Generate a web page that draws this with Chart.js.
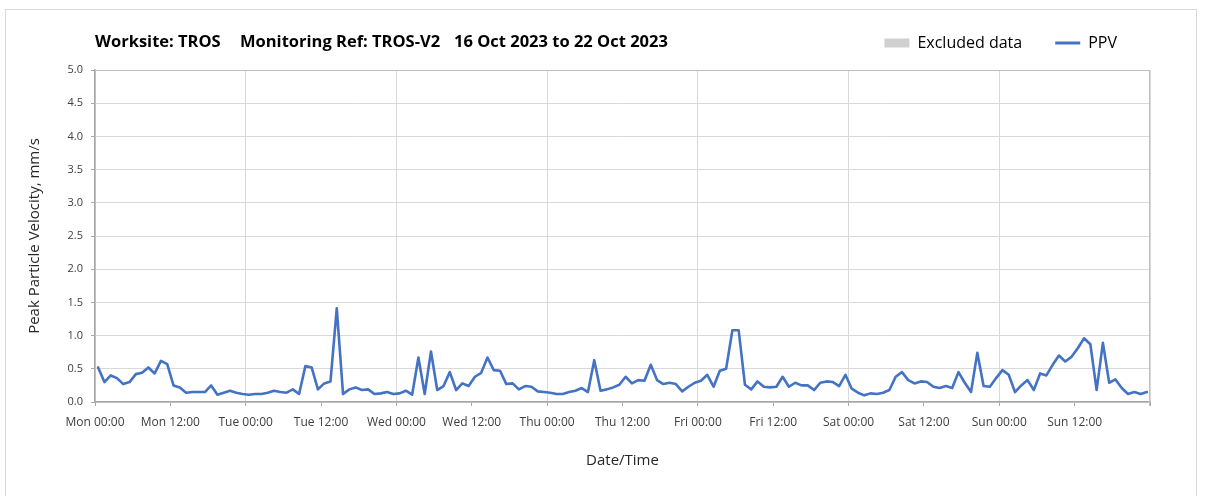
<!DOCTYPE html>
<html>
<head>
<meta charset="utf-8">
<script src="https://cdn.jsdelivr.net/npm/chart.js@4"></script>
<style>
html,body{margin:0;padding:0;background:#fff;}
#wrap{position:relative;width:1208px;height:496px;overflow:hidden;}
#frame{position:absolute;left:5px;top:9px;width:1192px;height:520px;border:1px solid #d9d9d9;box-sizing:border-box;pointer-events:none;}
#c{position:absolute;left:0;top:0;}
</style>
</head>
<body>
<div id="wrap"><div id="frame"></div><canvas id="c" width="1208" height="496"></canvas></div>
<script>
const TITLE_PARTS = ['Worksite: TROS', 'Monitoring Ref: TROS-V2', '16 Oct 2023 to 22 Oct 2023'];
const SERIES_NAME = 'PPV';
const EXCLUDED_NAME = 'Excluded data';
const X_TITLE = 'Date/Time';
const Y_TITLE = 'Peak Particle Velocity, mm/s';
const TICK_LABELS = ['Mon 00:00','Mon 12:00','Tue 00:00','Tue 12:00','Wed 00:00','Wed 12:00',
  'Thu 00:00','Thu 12:00','Fri 00:00','Fri 12:00','Sat 00:00','Sat 12:00','Sun 00:00','Sun 12:00'];
const HOURS_PER_TICK = 12;
const SAMPLE_OFFSET_H = 0.5; // hourly readings, mid-hour
const Y_MAX = 5.0;
const Y_STEP = 0.5;

// Hourly PPV readings (mm/s), Mon 00:00 -> Sun 24:00
const PPV_MON = [0.52,0.30,0.40,0.36,0.27,0.30,0.42,0.44,0.52,0.43,0.62,0.57,
                 0.25,0.22,0.14,0.15,0.15,0.15,0.25,0.11,0.14,0.17,0.14,0.12];
const PPV_TUE = [0.11,0.12,0.12,0.14,0.17,0.15,0.14,0.19,0.12,0.54,0.52,0.19,
                 0.28,0.31,1.41,0.12,0.19,0.22,0.18,0.19,0.12,0.13,0.15,0.12];
const PPV_WED = [0.13,0.17,0.11,0.67,0.12,0.76,0.18,0.24,0.45,0.18,0.28,0.24,
                 0.38,0.44,0.67,0.48,0.47,0.27,0.28,0.19,0.24,0.23,0.16,0.15];
const PPV_THU = [0.14,0.12,0.12,0.15,0.17,0.21,0.15,0.63,0.17,0.19,0.22,0.26,
                 0.38,0.28,0.33,0.32,0.56,0.33,0.27,0.29,0.27,0.16,0.23,0.29];
const PPV_FRI = [0.32,0.41,0.23,0.47,0.50,1.08,1.08,0.26,0.19,0.31,0.23,0.22,
                 0.23,0.38,0.23,0.29,0.25,0.25,0.18,0.29,0.31,0.30,0.24,0.41];
const PPV_SAT = [0.20,0.14,0.10,0.13,0.12,0.14,0.18,0.38,0.45,0.33,0.28,0.31,
                 0.30,0.23,0.21,0.24,0.21,0.45,0.29,0.15,0.74,0.24,0.23,0.36];
const PPV_SUN = [0.48,0.41,0.15,0.25,0.33,0.18,0.43,0.40,0.56,0.70,0.61,0.68,
                 0.81,0.96,0.87,0.18,0.89,0.29,0.34,0.21,0.12,0.15,0.12,0.15];
const PPV = [].concat(PPV_MON, PPV_TUE, PPV_WED, PPV_THU, PPV_FRI, PPV_SAT, PPV_SUN);

const FONT = "'Open Sans', 'Noto Sans', sans-serif";
const LINE_COLOR = '#4472C4';
const EXCL_COLOR = '#d0d0d0';
const GRID_COLOR = '#d9d9d9';
const AXIS_COLOR = '#a6a6a6';
const TEXT_COLOR = '#262626';
const TICK_COLOR = '#404040';
const LEGEND_FONT_SIZE = 16;
const LEGEND_PAD = 33;
const HEADER_Y = 43;

const points = PPV.map((v, i) => ({x: i + SAMPLE_OFFSET_H, y: v}));
const X_MAX = TICK_LABELS.length * HOURS_PER_TICK;

const titlePlugin = {
  id: 'rowTitle',
  afterLayout(chart) {
    // put legend on the same row as the title
    const lg = chart.legend;
    const center = lg.top + LEGEND_PAD + LEGEND_FONT_SIZE / 2;
    const shift = center - HEADER_Y;
    lg.top -= shift;
    lg.bottom -= shift;
  },
  afterDraw(chart) {
    const ctx = chart.ctx;
    ctx.save();
    ctx.font = "bold 16.5px " + FONT;
    ctx.fillStyle = '#000';
    ctx.textBaseline = 'middle';
    const xs = [95, 240, 454];
    TITLE_PARTS.forEach((t, i) => ctx.fillText(t, xs[i], 42));
    // plot frame (top/right)
    const a = chart.chartArea;
    ctx.strokeStyle = '#bfbfbf';
    ctx.lineWidth = 1;
    ctx.beginPath();
    ctx.moveTo(a.left, a.top + 0.5);
    ctx.lineTo(a.right - 0.5, a.top + 0.5);
    ctx.lineTo(a.right - 0.5, a.bottom + 4);
    ctx.stroke();
    ctx.restore();
  }
};

new Chart(document.getElementById('c'), {
  type: 'line',
  data: {
    datasets: [
      { label: EXCLUDED_NAME, data: [], backgroundColor: EXCL_COLOR, borderColor: EXCL_COLOR,
        legendStyle: 'rect', legendWidth: 0 },
      { label: SERIES_NAME, data: points, borderColor: LINE_COLOR, backgroundColor: LINE_COLOR,
        borderWidth: 2.6, pointRadius: 0, tension: 0, borderJoinStyle: 'round', borderCapStyle: 'round',
        legendStyle: 'line', legendWidth: 3 }
    ]
  },
  options: {
    responsive: false,
    animation: false,
    parsing: false,
    layout: { padding: { left: 10, right: 58, top: 11, bottom: 0 } },
    plugins: {
      tooltip: { enabled: false },
      title: { display: false },
      legend: {
        position: 'top',
        align: 'end',
        labels: {
          usePointStyle: true,
          pointStyleWidth: 25,
          boxWidth: 25,
          boxHeight: 9,
          padding: LEGEND_PAD,
          color: TEXT_COLOR,
          font: { family: FONT, size: LEGEND_FONT_SIZE },
          generateLabels: (chart) => chart.data.datasets.map((ds, i) => ({
            text: ds.label,
            fillStyle: ds.backgroundColor,
            strokeStyle: ds.borderColor,
            lineWidth: ds.legendWidth,
            pointStyle: ds.legendStyle,
            hidden: false,
            datasetIndex: i
          }))
        }
      }
    },
    scales: {
      x: {
        type: 'linear',
        min: 0,
        max: X_MAX,
        afterFit: (s) => { s.height = 94; },
        ticks: {
          stepSize: HOURS_PER_TICK,
          autoSkip: false,
          maxRotation: 0,
          minRotation: 0,
          padding: 9,
          color: TICK_COLOR,
          font: { family: FONT, size: 12 },
          callback: (v) => TICK_LABELS[Math.round(v / HOURS_PER_TICK)] || ''
        },
        grid: {
          color: (c) => (c.tick && c.tick.value % 24 === 0) ? GRID_COLOR : 'rgba(0,0,0,0)',
          tickColor: AXIS_COLOR,
          tickLength: 4,
          lineWidth: 1
        },
        border: { color: AXIS_COLOR, width: 1.5 },
        title: {
          display: true,
          text: X_TITLE,
          color: TEXT_COLOR,
          font: { family: FONT, size: 15 },
          padding: { top: 0, bottom: 26 }
        }
      },
      y: {
        min: 0,
        max: Y_MAX,
        afterFit: (s) => { s.width = 85; },
        ticks: {
          stepSize: Y_STEP,
          padding: 8,
          color: TICK_COLOR,
          font: { family: FONT, size: 11 },
          callback: (v) => Number(v).toFixed(1)
        },
        grid: { color: GRID_COLOR, tickColor: AXIS_COLOR, tickLength: 4, lineWidth: 1 },
        border: { color: AXIS_COLOR, width: 1.5 },
        title: {
          display: true,
          text: Y_TITLE,
          color: TEXT_COLOR,
          font: { family: FONT, size: 15 },
          padding: { top: 16, bottom: 0 }
        }
      }
    }
  },
  plugins: [titlePlugin]
});
</script>
</body>
</html>
